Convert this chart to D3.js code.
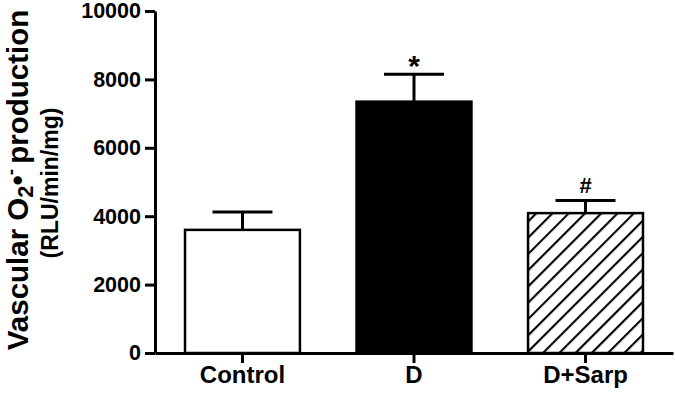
<!DOCTYPE html>
<html>
<head>
<meta charset="utf-8">
<script src="https://cdn.jsdelivr.net/npm/d3@7"></script>
<style>
  body { margin: 0; background: #fff; }
  text { font-family: "Liberation Sans", Arial, sans-serif; font-weight: bold; fill: #000; }
</style>
</head>
<body>
<div id="chart"></div>
<script>
const groups = ['Control', 'D', 'D+Sarp'];
const means = [3600, 7350, 4090];
const errors = [520, 800, 370];
const marks = ['', '*', '#'];
const fills = ['white', 'black', 'hatch'];
const yTicks = [0, 2000, 4000, 6000, 8000, 10000];

const width = 675, height = 395;
const margin = { top: 11, right: 2, bottom: 42, left: 155 };

const svg = d3.select('#chart').append('svg')
    .attr('width', width)
    .attr('height', height);

const defs = svg.append('defs');
const pat = defs.append('pattern')
    .attr('id', 'hatch')
    .attr('patternUnits', 'userSpaceOnUse')
    .attr('width', 11.5).attr('height', 11.5)
    .attr('patternTransform', 'rotate(45)');
pat.append('rect').attr('width', 11.5).attr('height', 11.5).attr('fill', 'white');
pat.append('line')
    .attr('x1', 1).attr('y1', 0).attr('x2', 1).attr('y2', 11.5)
    .attr('stroke', 'black').attr('stroke-width', 2.2);

const x = d3.scaleBand()
    .domain(groups)
    .range([margin.left, width - margin.right])
    .paddingInner(0.33)
    .paddingOuter(0.175);

const y = d3.scaleLinear()
    .domain([0, 10000])
    .range([height - margin.bottom, margin.top]);

// bars
svg.selectAll('.bar').data(groups).enter().append('rect')
    .attr('class', 'bar')
    .attr('x', d => x(d))
    .attr('y', (d, i) => y(means[i]))
    .attr('width', x.bandwidth())
    .attr('height', (d, i) => y(0) - y(means[i]))
    .attr('fill', (d, i) => fills[i] === 'hatch' ? 'url(#hatch)' : fills[i])
    .attr('stroke', 'black')
    .attr('stroke-width', 2.5);

// error bars (upper only)
const capW = 60;
groups.forEach((g, i) => {
    const cx = x(g) + x.bandwidth() / 2;
    const top = y(means[i] + errors[i]);
    svg.append('line')
        .attr('x1', cx).attr('x2', cx)
        .attr('y1', y(means[i])).attr('y2', top)
        .attr('stroke', 'black').attr('stroke-width', 3);
    svg.append('line')
        .attr('x1', cx - capW / 2).attr('x2', cx + capW / 2)
        .attr('y1', top).attr('y2', top)
        .attr('stroke', 'black').attr('stroke-width', 3);
    if (marks[i] === '*') {
        svg.append('text')
            .attr('x', cx).attr('y', top + 2)
            .attr('text-anchor', 'middle')
            .style('font-size', '30px')
            .text('*');
    } else if (marks[i]) {
        svg.append('text')
            .attr('x', cx).attr('y', top - 7)
            .attr('text-anchor', 'middle')
            .style('font-size', '22px')
            .text(marks[i]);
    }
});

// axes
const yAxis = svg.append('g')
    .attr('transform', `translate(${margin.left},0)`)
    .call(d3.axisLeft(y).tickValues(yTicks).tickSize(10).tickSizeOuter(0).tickPadding(4).tickFormat(d3.format('d')));
yAxis.select('.domain').attr('stroke-width', 3);
yAxis.selectAll('.tick line').attr('stroke-width', 3);
yAxis.selectAll('text').style('font-size', '21.5px').style('font-family', '"Liberation Sans", Arial, sans-serif').style('font-weight', 'bold');

const xAxis = svg.append('g')
    .attr('transform', `translate(0,${y(0)})`)
    .call(d3.axisBottom(x).tickSize(10).tickSizeOuter(0).tickPadding(3));
xAxis.select('.domain').attr('stroke-width', 3);
xAxis.selectAll('.tick line').attr('stroke-width', 3);
xAxis.selectAll('text').style('font-size', '24px').style('font-family', '"Liberation Sans", Arial, sans-serif').style('font-weight', 'bold');

// y title
const title = svg.append('text')
    .attr('transform', 'translate(28,180) rotate(-90)')
    .attr('text-anchor', 'middle')
    .style('font-size', '29.5px');
title.append('tspan').text('Vascular O');
title.append('tspan').attr('dy', 5).style('font-size', '22px').text('2');
title.append('tspan').attr('dy', -5).text('•');
title.append('tspan').attr('dy', -11).style('font-size', '19px').text('-');
title.append('tspan').attr('dy', 11).attr('dx', 5).text('production');

svg.append('text')
    .attr('transform', 'translate(58,183) rotate(-90)')
    .attr('text-anchor', 'middle')
    .style('font-size', '23px')
    .text('(RLU/min/mg)');
</script>
</body>
</html>
